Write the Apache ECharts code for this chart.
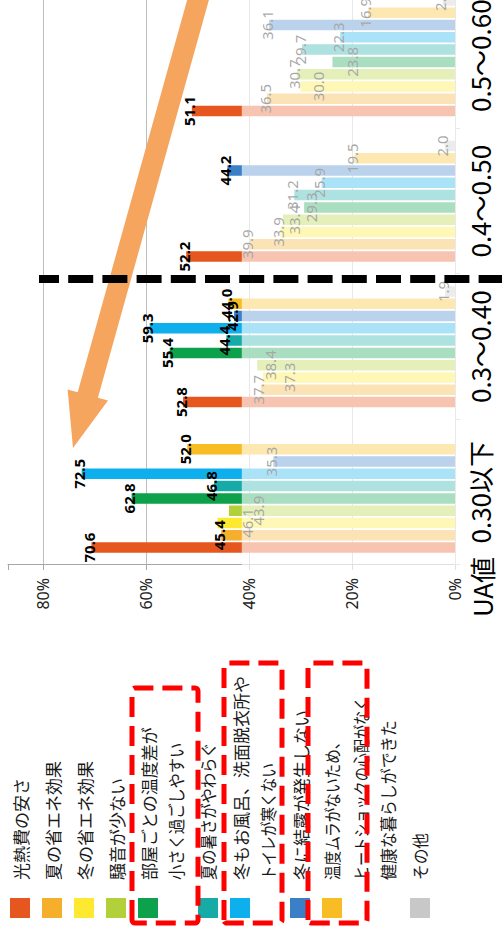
<!DOCTYPE html>
<html lang="ja">
<head>
<meta charset="utf-8">
<title>UA値別 住まいの満足点</title>
<script src="https://cdn.jsdelivr.net/npm/echarts@6/dist/echarts.min.js"></script>
<style>
  html, body { margin: 0; padding: 0; background: #fff; }
  body { width: 502px; height: 930px; overflow: hidden; position: relative; }
  /* 元の図は横倒しなので 930x502 で描いて -90° 回転する */
  #chart {
    position: absolute; left: 0; top: 0;
    width: 930px; height: 502px;
    transform-origin: 0 0;
    transform: translate(0, 930px) rotate(-90deg);
  }
</style>
</head>
<body>
<div id="chart"></div>
<script>
// UA値の区分
const categories = ["0.30以下", "0.3～0.40", "0.4～0.50", "0.5～0.60"];

// 凡例（\n は凡例での改行位置）
const seriesNames = [
  "光熱費の安さ",
  "夏の省エネ効果",
  "冬の省エネ効果",
  "騒音が少ない",
  "部屋ごとの温度差が\n小さく過ごしやすい",
  "夏の暑さがやわらぐ",
  "冬もお風呂、洗面脱衣所や\nトイレが寒くない",
  "冬に結露が発生しない",
  "温度ムラがないため、\nヒートショックの心配がなく\n健康な暮らしができた",
  "その他"
];

const seriesColors = [
  "#E5571F", "#F6AE2D", "#FDE92F", "#B2D03A", "#0CA14A",
  "#17ABA7", "#0DB0EC", "#3B7FC6", "#F8BC24", "#C8C8C8"
];

// 各項目の回答割合(%)  区分順
const costValues       = [70.6, 52.8, 52.2, 51.1];
const summerSaveValues = [45.4, 37.7, 39.9, 36.5];
const winterSaveValues = [46.1, 37.3, 33.9, 30.0];
const quietValues      = [43.9, 38.4, 33.4, 30.7];
const roomDiffValues   = [62.8, 55.4, 29.3, 23.8];
const summerHeatValues = [46.8, 44.4, 31.2, 29.7];
const bathWarmValues   = [72.5, 59.3, 25.9, 22.3];
const condensValues    = [35.3, 42.9, 44.2, 36.1];
const healthValues     = [52.0, 44.0, 19.5, 16.9];
const otherValues      = [null, 1.9, 2.0, 2.4];

const valueTicks = [0, 20, 40, 60, 80];

const seriesData = [
  costValues, summerSaveValues, winterSaveValues, quietValues, roomDiffValues,
  summerHeatValues, bathWarmValues, condensValues, healthValues, otherValues
];

// この値より下の部分は白く薄めて表示
const FADE_BELOW = 41.4;

// 重なりを避けてずらしてあるラベル（系列番号 -> 区分ごとのずれ px）
const labelNudge = {
  2: [32, 29, 0, 20],
  3: [32, 15, 14, 0],
  4: [0, 0, 9, 22]
};

// 元図の凡例は詰め組みなので、かなの多い行は横に縮める
const legendLineScale = {
  "小さく過ごしやすい": 0.9,
  "夏の暑さがやわらぐ": 0.9,
  "トイレが寒くない": 0.86,
  "温度ムラがないため、": 0.86,
  "ヒートショックの心配がなく": 0.83,
  "健康な暮らしができた": 0.94,
  "その他": 0.92
};

const GRID_LEFT = 365;
const GRID_TOP = 8;
const GRID_H = 447;
const CAT_FONT = "'Liberation Sans Narrow', 'Noto Sans CJK JP'";

const chart = echarts.init(document.getElementById("chart"), null, { renderer: "svg" });

const option = {
  animation: false,
  grid: {
    left: GRID_LEFT, top: GRID_TOP, width: 582, height: GRID_H,
    outerBoundsMode: "none", containLabel: false
  },
  xAxis: {
    type: "category",
    data: categories,
    axisLine: { lineStyle: { color: "#bfbfbf" } },
    axisTick: { show: true, length: 5, lineStyle: { color: "#bfbfbf" } },
    axisLabel: {
      interval: 0,
      fontSize: 26,
      margin: 11,
      color: "#000",
      fontFamily: CAT_FONT
    }
  },
  yAxis: {
    type: "value",
    min: 0,
    max: 86.8,
    interval: 20,
    axisLine: { show: true, lineStyle: { color: "#a6a6a6" } },
    axisTick: { show: true, length: 5, lineStyle: { color: "#a6a6a6" } },
    axisLabel: {
      fontSize: 16,
      margin: 13,
      color: "#222",
      fontFamily: "Noto Sans",
      formatter: (v) => (valueTicks.includes(v) ? v + "%" : "")
    },
    splitLine: { showMaxLine: false, lineStyle: { color: "#bdbdbd" } }
  },
  series: seriesData.map((vals, i) => ({
    name: seriesNames[i].replace(/\n/g, ""),
    type: "bar",
    barWidth: 10.5,
    barGap: "17%",
    itemStyle: { color: seriesColors[i] },
    label: {
      show: true,
      position: "top",
      distance: -5,
      fontSize: 15,
      fontFamily: "Noto Sans",
      color: "#000",
      formatter: (p) => (p.value == null ? "" : Number(p.value).toFixed(1))
    },
    data: vals.map((v, j) => {
      const nudge = labelNudge[i] ? labelNudge[i][j] : 0;
      return {
        value: v,
        label: {
          offset: [0, nudge],
          fontWeight: v > FADE_BELOW && !nudge ? "bold" : "normal"
        }
      };
    })
  }))
};

chart.setOption(option);

// 薄める範囲（軸の目盛から求める）
const fadeTop = chart.convertToPixel({ yAxisIndex: 0 }, FADE_BELOW);
const zeroY = chart.convertToPixel({ yAxisIndex: 0 }, 0);

// 凡例
const legendEls = [];
let lineY = 20;
seriesNames.forEach((name, i) => {
  legendEls.push({
    type: "rect",
    shape: { x: 12, y: lineY - 10, width: 20, height: 20 },
    style: { fill: seriesColors[i] },
    z: 100
  });
  name.split("\n").forEach((line, k) => {
    if (k > 0) lineY += 28;
    legendEls.push({
      type: "text",
      x: 50,
      y: lineY,
      scaleX: legendLineScale[line] || 1,
      style: {
        text: line,
        fontSize: 17,
        fontFamily: "Noto Sans CJK JP",
        fill: "#1a1a1a",
        align: "left",
        verticalAlign: "middle",
        textAlign: "left",
        textVerticalAlign: "middle"
      },
      z: 100
    });
  });
  lineY += 32;
});

// 赤い点線の囲み
const redBoxes = [
  { x: 7, y: 132, width: 235, height: 66 },
  { x: 7, y: 224, width: 260, height: 58 },
  { x: 7, y: 308, width: 260, height: 59 }
].map((s) => ({
  type: "rect",
  shape: Object.assign({ r: 3 }, s),
  style: { fill: "none", stroke: "#ff0000", lineWidth: 5, lineDash: [20, 9] },
  z: 105
}));

chart.setOption({
  graphic: [
    {
      type: "rect",
      shape: { x: 359, y: fadeTop, width: 620, height: zeroY + 6 - fadeTop },
      style: { fill: "rgba(255,255,255,0.65)" },
      z: 100
    },
    {
      type: "polygon",
      shape: {
        points: [
          [946.5, 213.5], [532.2, 97.9], [529.4, 108.0], [482, 73],
          [540.6, 67.6], [537.8, 77.7], [952.1, 193.3]
        ]
      },
      style: { fill: "#F6A55F" },
      z: 95
    },
    {
      type: "line",
      shape: { x1: 651, y1: 39, x2: 651, y2: 510 },
      style: { stroke: "#000", lineWidth: 8, lineDash: [25, 9.2], lineDashOffset: 5 },
      z: 110
    },
    {
      type: "text",
      x: 373,
      y: zeroY + 26,
      style: {
        text: "UA値",
        fontSize: 26,
        fontFamily: CAT_FONT,
        fill: "#000",
        align: "right",
        verticalAlign: "middle",
        textAlign: "right",
        textVerticalAlign: "middle"
      },
      z: 100
    }
  ].concat(legendEls, redBoxes)
});
</script>
</body>
</html>
